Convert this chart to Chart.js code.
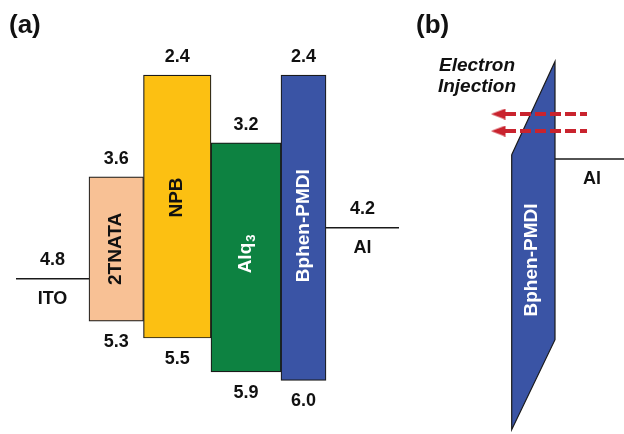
<!DOCTYPE html>
<html>
<head>
<meta charset="utf-8">
<script src="https://cdn.jsdelivr.net/npm/chart.js@4.4.1/dist/chart.umd.min.js"></script>
<style>
  html, body { margin: 0; padding: 0; background: #fff; }
  #wrap { width: 624px; height: 434px; }
</style>
</head>
<body>
<div id="wrap"><canvas id="levels"></canvas></div>
<script>
// energy levels in eV (below vacuum), panel (a)
var materials = ['2TNATA', 'NPB', 'Alq3', 'Bphen-PMDI'];
var lumo = [3.6, 2.4, 3.2, 2.4];
var homo = [5.3, 5.5, 5.9, 6.0];
var electrodes = ['ITO', 'Al'];
var workFn = [4.8, 4.2];

// panel (b): Bphen-PMDI band bent at the Al contact (schematic, eV)
var bentLeft = [3.34, 6.58];   // top, bottom of left edge
var bentRight = [2.24, 5.52];  // top, bottom of right edge
var alBent = 3.39;
var injectLevels = [2.86, 3.06];

// layout (x in px units of the canvas)
var barEdges = [89, 143.5, 211, 281, 326];
var barColors = ['#f8c195', '#fcc012', '#0d8241', '#3a54a5'];
var nameColors = ['#111', '#111', '#fff', '#fff'];
var nameShift = [0, -9, -3, -2];
var electrodeX = [[16, 89], [326, 399]];
var arrowRed = '#c9232e';
var FONT = '"Liberation Sans", Arial, sans-serif';

// arrow head image: triangle in the left half so the point centre is its base
var head = document.createElement('canvas');
head.width = 28; head.height = 11;
(function () {
    var c = head.getContext('2d');
    c.fillStyle = arrowRed;
    c.beginPath();
    c.moveTo(0, 5.5); c.lineTo(14.5, 0); c.lineTo(14.5, 11); c.closePath();
    c.fill();
})();

var datasets = [];
materials.forEach(function (m, i) {
    var l = barEdges[i], r = barEdges[i + 1];
    datasets.push({
        type: 'bar',
        label: m,
        data: [{x: (l + r) / 2, y: [lumo[i], homo[i]]}],
        barThickness: r - l,
        skipNull: true,
        backgroundColor: barColors[i],
        borderColor: '#1a1a1a',
        borderWidth: 1.2,
        borderSkipped: false,
        order: 5
    });
});
electrodes.forEach(function (e, i) {
    datasets.push({
        type: 'line',
        label: e,
        data: [{x: electrodeX[i][0], y: workFn[i]}, {x: electrodeX[i][1], y: workFn[i]}],
        borderColor: '#1a1a1a',
        borderWidth: 1.5,
        pointRadius: 0,
        order: 4
    });
});
// bent band polygon
datasets.push({
    type: 'line',
    label: 'bent',
    data: [
        {x: 511.7, y: bentLeft[0]}, {x: 555, y: bentRight[0]},
        {x: 555, y: bentRight[1]}, {x: 511.7, y: bentLeft[1]},
        {x: 511.7, y: bentLeft[0]}
    ],
    fill: 'shape',
    backgroundColor: barColors[3],
    borderColor: '#1a1a1a',
    borderWidth: 1.2,
    pointRadius: 0,
    tension: 0,
    order: 3
});
datasets.push({
    type: 'line',
    label: 'Al (b)',
    data: [{x: 555, y: alBent}, {x: 624, y: alBent}],
    borderColor: '#1a1a1a',
    borderWidth: 1.5,
    pointRadius: 0,
    order: 3
});
// injection arrows
injectLevels.forEach(function (v) {
    datasets.push({
        type: 'line',
        label: 'injection',
        data: [{x: 505, y: v}, {x: 587, y: v}],
        borderColor: arrowRed,
        borderWidth: 4,
        borderDash: [11, 4],
        pointStyle: [head, false],
        pointRadius: [6, 0],
        order: 1
    });
});

var labelPlugin = {
    id: 'labels',
    afterDatasetsDraw: function (chart) {
        var ctx = chart.ctx, x = chart.scales.x, y = chart.scales.y;
        ctx.save();
        ctx.fillStyle = '#111';
        ctx.textAlign = 'center';
        ctx.textBaseline = 'middle';
        ctx.font = 'bold 18px ' + FONT;
        materials.forEach(function (m, i) {
            var cx = x.getPixelForValue((barEdges[i] + barEdges[i + 1]) / 2);
            ctx.fillText(lumo[i].toFixed(1), cx, y.getPixelForValue(lumo[i]) - 18);
            ctx.fillText(homo[i].toFixed(1), cx, y.getPixelForValue(homo[i]) + 21);
        });
        electrodes.forEach(function (e, i) {
            var cx = x.getPixelForValue((electrodeX[i][0] + electrodeX[i][1]) / 2);
            var py = y.getPixelForValue(workFn[i]);
            ctx.fillText(workFn[i].toFixed(1), cx, py - 19);
            ctx.fillText(e, cx, py + 20);
        });
        ctx.fillText('Al', x.getPixelForValue(592), y.getPixelForValue(alBent) + 20);

        // names inside bars, rotated
        materials.forEach(function (m, i) {
            var cx = x.getPixelForValue((barEdges[i] + barEdges[i + 1]) / 2);
            var cy = (y.getPixelForValue(lumo[i]) + y.getPixelForValue(homo[i])) / 2 + nameShift[i];
            drawName(ctx, m, cx, cy, nameColors[i]);
        });
        drawName(ctx, materials[3], x.getPixelForValue(532), 260, '#fff');

        ctx.fillStyle = '#111';
        ctx.textAlign = 'left';
        ctx.font = 'bold 26px ' + FONT;
        ctx.fillText('(a)', 9, 26);
        ctx.fillText('(b)', 416, 26);
        ctx.textAlign = 'center';
        ctx.textBaseline = 'alphabetic';
        ctx.font = 'italic bold 19px ' + FONT;
        ctx.fillText('Electron', 477, 71);
        ctx.fillText('Injection', 477, 92);
        ctx.restore();
    }
};

function drawName(ctx, name, cx, cy, color) {
    ctx.save();
    ctx.translate(cx, cy);
    ctx.rotate(-Math.PI / 2);
    ctx.fillStyle = color;
    ctx.textBaseline = 'middle';
    ctx.font = 'bold 19px ' + FONT;
    if (name === 'Alq3') {
        var w1 = ctx.measureText('Alq').width;
        ctx.font = 'bold 13px ' + FONT;
        var w2 = ctx.measureText('3').width;
        var start = -(w1 + w2) / 2;
        ctx.font = 'bold 19px ' + FONT;
        ctx.textAlign = 'left';
        ctx.fillText('Alq', start, 0);
        ctx.font = 'bold 13px ' + FONT;
        ctx.fillText('3', start + w1 + 1, 5);
    } else {
        ctx.textAlign = 'center';
        ctx.fillText(name, 0, 0);
    }
    ctx.restore();
}

new Chart(document.getElementById('levels'), {
    type: 'bar',
    data: {datasets: datasets},
    options: {
        responsive: true,
        maintainAspectRatio: false,
        animation: false,
        layout: {padding: 0, autoPadding: false},
        plugins: {legend: {display: false}, tooltip: {enabled: false}},
        scales: {
            x: {type: 'linear', min: 0, max: 624, offset: false, display: false},
            y: {type: 'linear', min: 1.516, max: 6.631, reverse: true, display: false}
        }
    },
    plugins: [labelPlugin]
});
</script>
</body>
</html>
